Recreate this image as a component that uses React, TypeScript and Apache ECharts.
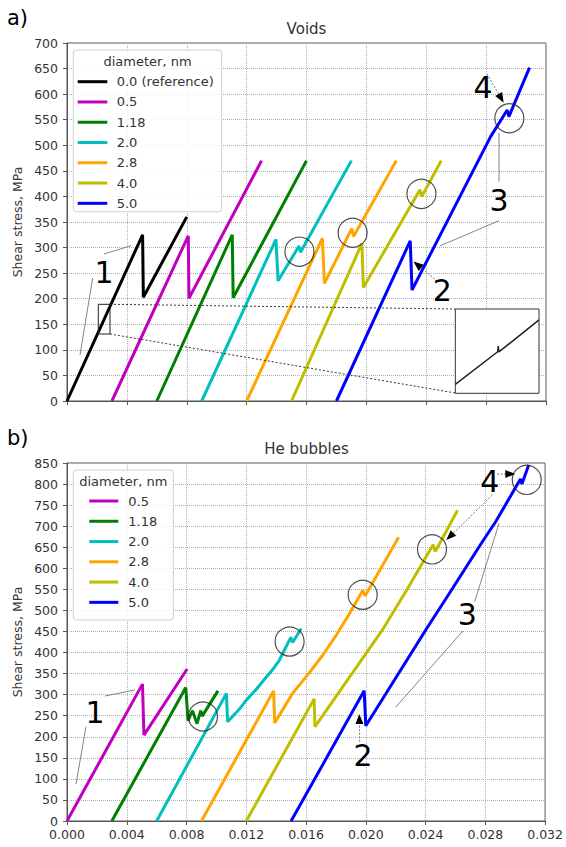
import React, { useEffect, useRef } from 'react';
import * as echarts from 'echarts';

// ---------------- data ----------------
const voidNames = ['0.0 (reference)', '0.5', '1.18', '2.0', '2.8', '4.0', '5.0'];
const voidColors = ['#000000', '#bf00bf', '#008000', '#00bfbf', '#ffa500', '#bfbf00', '#0000ff'];

const voidsRef = [[0, 0], [0.00505, 325], [0.0051, 203], [0.008, 360]];
const voids05 = [[0.003, 0], [0.0081, 323], [0.00815, 201], [0.013, 470]];
const voids118 = [[0.006, 0], [0.01104, 325], [0.0111, 202], [0.016, 470]];
const voids20 = [[0.009, 0], [0.01396, 316], [0.0141, 235], [0.0155, 303], [0.0156, 291], [0.019, 470]];
const voids28 = [[0.012, 0], [0.01706, 318], [0.0172, 230], [0.01902, 337], [0.01915, 322], [0.022, 470]];
const voids40 = [[0.015, 0], [0.0197, 308], [0.0198, 222], [0.02358, 413], [0.0237, 400], [0.025, 470]];
const voids50 = [[0.018, 0], [0.02293, 313], [0.02305, 217], [0.0283, 517], [0.02941, 569], [0.02952, 556], [0.0309, 652]];
const voidsSeries = [voidsRef, voids05, voids118, voids20, voids28, voids40, voids50];
const voidsCircles = [[0.01553, 292], [0.01908, 329], [0.02368, 405], [0.02955, 553]];

// inset: magnified piece of the reference curve
const insetData = [[0.00209, 137.2], [0.002485, 159.6], [0.00249, 163.5], [0.002497, 159.5], [0.00287, 181.5]];
const insetXRange = [0.00209, 0.00287];
const insetYRange = [131, 189];

const bubNames = ['0.5', '1.18', '2.0', '2.8', '4.0', '5.0'];
const bubColors = ['#bf00bf', '#008000', '#00bfbf', '#ffa500', '#bfbf00', '#0000ff'];
const bub05 = [[0, 0], [0.00505, 325], [0.00515, 204], [0.00804, 361]];
const bub118 = [[0.003, 0], [0.00795, 317], [0.0081, 238], [0.0084, 262], [0.0087, 231], [0.00895, 262], [0.00905, 249], [0.0101, 309]];
const bub20 = [[0.006, 0], [0.01067, 303], [0.01075, 236], [0.0115, 264], [0.012, 287], [0.0127, 314], [0.0133, 340], [0.0138, 361], [0.0142, 381], [0.01498, 436], [0.0151, 424], [0.01568, 457]];
const bub28 = [[0.009, 0], [0.01383, 309], [0.0139, 233], [0.0151, 303], [0.0162, 351], [0.0171, 393], [0.018, 440], [0.0189, 492], [0.0198, 548], [0.01995, 534], [0.0222, 674]];
const bub40 = [[0.012, 0], [0.01654, 290], [0.0166, 224], [0.0211, 453], [0.0228, 552], [0.0245, 656], [0.02465, 640], [0.02614, 738]];
const bub50 = [[0.015, 0], [0.01989, 309], [0.02, 226], [0.024, 453], [0.0258, 552], [0.0278, 663], [0.0287, 711], [0.03035, 812], [0.03045, 800], [0.0309, 845]];
const bubSeries = [bub05, bub118, bub20, bub28, bub40, bub50];
const bubCircles = [[0.0091, 248], [0.0149, 426], [0.01979, 537], [0.02443, 645], [0.03077, 810]];

// ---------------- styling helpers ----------------
const FONT = 'DejaVu Sans';
const AX = '#555';

function ln(x1: number, y1: number, x2: number, y2: number, stroke = '#666', w = 0.8, dash?: number[]) {
  return { type: 'line', z: 100, shape: { x1, y1, x2, y2 }, style: { stroke, lineWidth: w, lineDash: dash } };
}
function arrow(x1: number, y1: number, x2: number, y2: number) {
  const a = Math.atan2(y2 - y1, x2 - x1);
  const L = 10, Wd = 4;
  const bx = x2 - L * Math.cos(a), by = y2 - L * Math.sin(a);
  const px = -Math.sin(a) * Wd, py = Math.cos(a) * Wd;
  return [
    ln(x1, y1, bx, by, '#555', 0.8, [2, 1.5]),
    { type: 'polygon', z: 101, shape: { points: [[x2, y2], [bx + px, by + py], [bx - px, by - py]] }, style: { fill: '#000' } },
  ];
}
function txt(t: string, x: number, y: number, size: number, align = 'center', fill = '#000') {
  return { type: 'text', z: 100, x, y, style: { text: t, fontSize: size, fontFamily: FONT, fill, align, verticalAlign: 'middle' } };
}
function legend(box: number[], title: number[], lx1: number, lx2: number, tx: number, y0: number, names: string[], colors: string[]) {
  const els: any[] = [
    { type: 'rect', z: 90, shape: { x: box[0], y: box[1], width: box[2], height: box[3], r: 3 }, style: { fill: 'rgba(255,255,255,0.85)', stroke: '#d0d0d0', lineWidth: 1 } },
    txt('diameter, nm', title[0], title[1], 13, 'center', '#333'),
  ];
  names.forEach((n, i) => {
    const y = y0 + i * 20.27;
    els.push({ type: 'line', z: 95, shape: { x1: lx1, y1: y, x2: lx2, y2: y }, style: { stroke: colors[i], lineWidth: 3 } });
    els.push(txt(n, tx, y, 13, 'left', '#333'));
  });
  return els;
}

const xAxisBase = (gridIndex: number, labels: boolean) => ({
  gridIndex, type: 'value', min: 0, max: 0.032, interval: 0.004,
  axisLine: { show: true, lineStyle: { color: AX, width: 1 } },
  axisTick: { show: true, length: 4, lineStyle: { color: AX } },
  axisLabel: { show: labels, fontSize: 12.5, fontFamily: FONT, color: '#333', margin: 7, formatter: (v: number) => v.toFixed(3) },
  splitLine: { show: true, lineStyle: { color: '#b0b0b0', type: 'dotted', width: 1 } },
});
const yAxisBase = (gridIndex: number, max: number) => ({
  gridIndex, type: 'value', min: 0, max, interval: 50,
  axisLine: { show: true, lineStyle: { color: AX, width: 1 } },
  axisTick: { show: true, length: 4, lineStyle: { color: AX } },
  axisLabel: { fontSize: 12.5, fontFamily: FONT, color: '#333', margin: 9 },
  splitLine: { show: true, lineStyle: { color: '#b0b0b0', type: 'dotted', width: 1 } },
});

function buildOption() {
  const series: any[] = [];
  voidsSeries.forEach((d, i) => series.push({
    type: 'line', name: voidNames[i], xAxisIndex: 0, yAxisIndex: 0, data: d, showSymbol: false, z: 2,
    lineStyle: { color: voidColors[i], width: 3 }, itemStyle: { color: voidColors[i] },
  }));
  bubSeries.forEach((d, i) => series.push({
    type: 'line', name: bubNames[i], xAxisIndex: 1, yAxisIndex: 1, data: d, showSymbol: false, z: 2,
    lineStyle: { color: bubColors[i], width: 3 }, itemStyle: { color: bubColors[i] },
  }));
  const circle = (xi: number, data: number[][]) => ({
    type: 'scatter', xAxisIndex: xi, yAxisIndex: xi, data, symbol: 'circle', symbolSize: 29, z: 5,
    itemStyle: { color: 'rgba(0,0,0,0)', borderColor: '#222', borderWidth: 1.2 }, silent: true,
  });
  series.push(circle(0, voidsCircles));
  series.push(circle(1, bubCircles));
  series.push({
    type: 'line', xAxisIndex: 2, yAxisIndex: 2, data: insetData, showSymbol: false, z: 10,
    lineStyle: { color: '#222', width: 1.5 },
  });

  const graphic: any[] = [
    txt('a)', 7, 18, 21, 'left'),
    txt('b)', 7, 438, 21, 'left'),
    txt('Voids', 306.5, 29, 15, 'center', '#333'),
    txt('He bubbles', 306.5, 449, 15, 'center', '#333'),
    { type: 'text', z: 100, x: 17.5, y: 222, rotation: Math.PI / 2, style: { text: 'Shear stress, MPa', fontSize: 12.5, fontFamily: FONT, fill: '#333', align: 'center', verticalAlign: 'middle' } },
    { type: 'text', z: 100, x: 17.5, y: 642, rotation: Math.PI / 2, style: { text: 'Shear stress, MPa', fontSize: 12.5, fontFamily: FONT, fill: '#333', align: 'center', verticalAlign: 'middle' } },
    ...legend([73.3, 50, 148.4, 161.7], [147.5, 61], 77.7, 107.3, 116.7, 81.7, voidNames, voidColors),
    ...legend([73.3, 470, 100, 150], [123.3, 481.5], 89.3, 118.3, 128.3, 501, bubNames, bubColors),
    // ---- top annotations
    txt('1', 104, 272, 30),
    ln(92.7, 278, 80, 355),
    ln(104, 254, 131, 245.7),
    { type: 'rect', z: 100, shape: { x: 98.3, y: 304.3, width: 11.7, height: 29.7 }, style: { fill: 'none', stroke: '#222', lineWidth: 1 } },
    ln(110, 304.3, 455.3, 309, '#222', 0.9, [2, 2]),
    ln(110, 334, 455.3, 393, '#222', 0.9, [2, 2]),
    txt('2', 442.3, 290, 30),
    ...arrow(434.7, 279, 413.5, 261.5),
    txt('3', 499, 200, 30),
    ln(499, 181.7, 499, 133),
    ln(499, 220.7, 439.7, 246),
    txt('4', 483, 87, 30),
    ...arrow(487, 74, 503.7, 102.7),
    // ---- bottom annotations
    txt('1', 95, 712, 30),
    ln(86, 726.7, 76, 784),
    ln(105, 696, 135, 690),
    txt('2', 363, 755, 30),
    ...arrow(359.7, 741.7, 359.3, 714),
    txt('3', 467.3, 614, 30),
    ln(474.7, 601.7, 499, 523.3),
    ln(463, 630.7, 395.7, 707.3),
    txt('4', 489.7, 481, 30),
    ...arrow(492.3, 495, 446.3, 540),
    ...arrow(497, 474, 515.3, 474),
  ];

  return {
    animation: false,
    backgroundColor: '#fff',
    textStyle: { fontFamily: FONT },
    grid: [
      { left: 67, top: 43, width: 479, height: 358, show: true, borderColor: AX, borderWidth: 1, backgroundColor: 'rgba(0,0,0,0)' },
      { left: 67, top: 463, width: 479, height: 358, show: true, borderColor: AX, borderWidth: 1, backgroundColor: 'rgba(0,0,0,0)' },
      { left: 455.3, top: 309, width: 83.7, height: 84.3, show: true, borderColor: '#333', borderWidth: 1, backgroundColor: '#fff', z: 8 },
    ],
    xAxis: [
      xAxisBase(0, false),
      xAxisBase(1, true),
      { gridIndex: 2, type: 'value', min: insetXRange[0], max: insetXRange[1], show: false, splitLine: { show: false } },
    ],
    yAxis: [
      yAxisBase(0, 700),
      yAxisBase(1, 850),
      { gridIndex: 2, type: 'value', min: insetYRange[0], max: insetYRange[1], show: false, splitLine: { show: false } },
    ],
    series,
    graphic,
  };
}

export default function App() {
  const ref = useRef<HTMLDivElement>(null);
  useEffect(() => {
    const chart = echarts.init(ref.current!, null, { renderer: 'svg' });
    chart.setOption(buildOption() as any);
    return () => chart.dispose();
  }, []);
  return <div ref={ref} style={{ position: 'absolute', left: 0, top: 0, width: 566, height: 847 }} />;
}
